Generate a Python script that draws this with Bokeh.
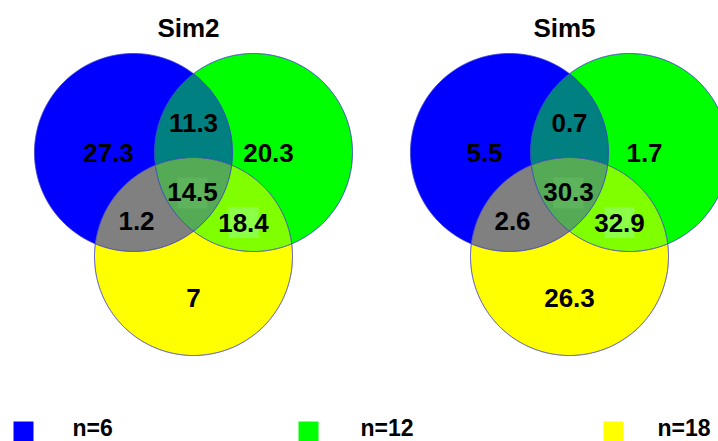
import numpy as np
from bokeh.plotting import figure
from bokeh.models import Range1d, ColumnDataSource
from bokeh.core.properties import value
from bokeh.embed import file_html
from bokeh.resources import INLINE

# ---------------- data ----------------
titles = ["Sim2", "Sim5"]
region_names = ["blue only", "blue&green", "green only", "all three",
                "blue&yellow", "green&yellow", "yellow only"]
sim2_values = [27.3, 11.3, 20.3, 14.5, 1.2, 18.4, 7]
sim5_values = [5.5, 0.7, 1.7, 30.3, 2.6, 32.9, 26.3]
set_labels = ["n=6", "n=12", "n=18"]
set_colors = ["#0000FF", "#00FF00", "#FFFF00"]
region_colors = {"blue&green": "#008080", "blue&yellow": "#808080",
                 "green&yellow": "#80FF00", "all three": "#55AA55"}

# ---------------- layout (screen pixels) ----------------
W, H = 718, 441
diagram_cx = [193, 569]
top_cy = 152
R = 99
half_side = 60
tri_h = 104
label_dx = [-85, 0, 75, -1, -57, 50, 0]
label_dy = [0.5, -29.5, 0.5, 39.5, 68, 70, 145.5]
title_dx, title_y = -5, 27.5
legend_sq_x = [13, 298, 603]
legend_tx_x = [72, 360, 657]
legend_sq_y = 431
legend_tx_y = 427

p = figure(width=W, height=H, x_range=Range1d(0, W), y_range=Range1d(H, 0),
           output_backend="svg", toolbar_location=None, min_border=0,
           x_axis_location=None, y_axis_location=None)
p.grid.visible = False
p.outline_line_color = None
p.background_fill_color = "white"
p.border_fill_color = "white"


def region(circles, n=1440):
    """Convex intersection of circles, as polygon."""
    t = np.linspace(0, 2 * np.pi, n, endpoint=False)
    xs, ys = [], []
    for i, (cx, cy) in enumerate(circles):
        x = cx + R * np.cos(t)
        y = cy + R * np.sin(t)
        m = np.ones_like(x, dtype=bool)
        for j, (ox, oy) in enumerate(circles):
            if j != i:
                m &= (x - ox) ** 2 + (y - oy) ** 2 <= R * R + 1e-6
        xs.append(x[m]); ys.append(y[m])
    x = np.concatenate(xs); y = np.concatenate(ys)
    mx, my = x.mean(), y.mean()
    o = np.argsort(np.arctan2(y - my, x - mx))
    return list(x[o]), list(y[o])


font = value("Liberation Sans")
for k, (title, vals) in enumerate(zip(titles, [sim2_values, sim5_values])):
    cx0 = diagram_cx[k]
    B = (cx0 - half_side, top_cy)
    G = (cx0 + half_side, top_cy)
    Y = (cx0, top_cy + tri_h)
    circles = [B, G, Y]
    # full circles
    for c, col in zip(circles, set_colors):
        xx, yy = region([c])
        p.patch(xx, yy, fill_color=col, line_color=None)
    # pairwise overlaps
    for pair, name in [((B, G), "blue&green"), ((B, Y), "blue&yellow"), ((G, Y), "green&yellow")]:
        xx, yy = region(list(pair))
        p.patch(xx, yy, fill_color=region_colors[name], line_color=None)
    xx, yy = region(circles)
    p.patch(xx, yy, fill_color=region_colors["all three"], line_color=None)
    # outlines
    for c in circles:
        xx, yy = region([c])
        p.patch(xx, yy, fill_color=None, line_color="#3A3AD0", line_width=1)
    # light label boxes (center and green&yellow)
    p.rect(x=[cx0 + label_dx[3], cx0 + label_dx[5]],
           y=[top_cy + label_dy[3] + 1, top_cy + label_dy[5]],
           width=30, height=31, fill_color=["#5DB45D", "#8CFF48"], line_color=None)
    src = ColumnDataSource(dict(
        x=[cx0 + d for d in label_dx],
        y=[top_cy + d for d in label_dy],
        t=[f"{v:g}" for v in vals]))
    p.text(x="x", y="y", text="t", source=src, text_font=font, text_font_style="bold",
           text_font_size="26px", text_align="center", text_baseline="middle",
           text_color="black")
    p.text(x=[cx0 + title_dx], y=[title_y], text=[title], text_font=font,
           text_font_style="bold", text_font_size="26px", text_align="center",
           text_baseline="middle", text_color="black")

# legend
p.rect(x=[x + 10 for x in legend_sq_x], y=[legend_sq_y] * 3, width=20, height=20,
       fill_color=set_colors, line_color=None)
p.text(x=legend_tx_x, y=[legend_tx_y] * 3, text=set_labels, text_font=font,
       text_font_style="bold", text_font_size="23px", text_align="left",
       text_baseline="middle", text_color="black")

open("out.html", "w").write(file_html(p, INLINE))
